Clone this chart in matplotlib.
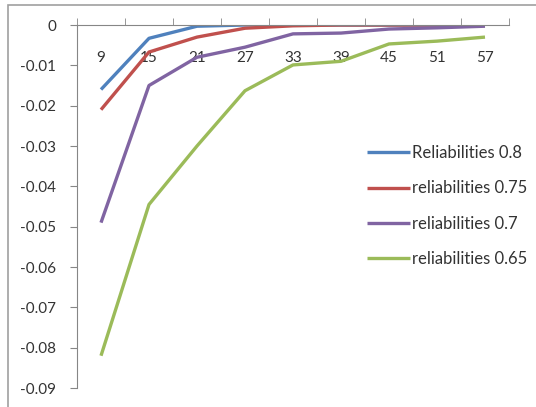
import matplotlib.pyplot as plt
from matplotlib.patches import Rectangle
import numpy as np

plt.rcParams['font.family'] = ['Lato', 'DejaVu Sans']
plt.rcParams['axes.unicode_minus'] = False

sizes = ['9', '15', '21', '27', '33', '39', '45', '51', '57']
rel_08 = [-0.016, -0.0033, -0.0003, 0.0, 0.0, 0.0, 0.0, 0.0, 0.0]
rel_075 = [-0.021, -0.0067, -0.003, -0.0008, -0.0002, 0.0, 0.0, 0.0, 0.0]
rel_07 = [-0.049, -0.015, -0.008, -0.0055, -0.0022, -0.002, -0.001, -0.0007, -0.0003]
rel_065 = [-0.082, -0.0445, -0.030, -0.0163, -0.0099, -0.009, -0.0047, -0.004, -0.003]

labels = ['Reliabilities 0.8', 'reliabilities 0.75', 'reliabilities 0.7', 'reliabilities 0.65']
colors = ['#4F81BD', '#C0504D', '#8064A2', '#9BBB59']
series = [rel_08, rel_075, rel_07, rel_065]

fig = plt.figure(figsize=(5.36, 4.07), dpi=100)
ax = fig.add_axes([77/536, 1-388/407, (509-77)/536, (388-25)/407])

x = np.arange(len(sizes))
for s, c, lab in zip(series, colors, labels):
    ax.plot(x, s, color=c, lw=2.4, label=lab, solid_capstyle='butt')

ax.set_xlim(-0.5, len(sizes) - 0.5)
ax.set_ylim(-0.09, 0)
yt = np.arange(-0.09, 0.001, 0.01)
ax.set_yticks(yt)
ax.set_yticklabels(['0' if abs(v) < 1e-9 else '%.2f' % v for v in yt])

# category axis sits at y=0 (top), labels drawn below it
ax.set_xticks(x)
ax.set_xticklabels(sizes)
ax.set_xticks(np.arange(-0.5, len(sizes)), minor=True)
ax.tick_params(axis='x', which='major', bottom=False, top=False, labelbottom=False,
               labeltop=True, pad=-32, labelsize=11, colors='#333333')
ax.tick_params(axis='x', which='minor', bottom=False, top=True, direction='out',
               length=5, color='#868686')
ax.tick_params(axis='y', direction='out', length=5, pad=10, color='#868686', labelsize=11,
               labelcolor='#333333')

for side in ['bottom', 'right']:
    ax.spines[side].set_visible(False)
for side in ['top', 'left']:
    ax.spines[side].set_color('#868686')

leg = ax.legend(loc='center left', bbox_to_anchor=(352/536, 1-206/407), bbox_transform=fig.transFigure,
                frameon=False, fontsize=12, handlelength=2.6, handletextpad=0.1, labelspacing=1.15)
for t in leg.get_texts():
    t.set_color('#333333')

fig.patches.append(Rectangle((8/536, -0.1), 1.2, 1-5/407+0.1, transform=fig.transFigure,
                             fill=False, edgecolor='#A0A0A0', lw=1.2))

fig.savefig('out.png', dpi=100)
